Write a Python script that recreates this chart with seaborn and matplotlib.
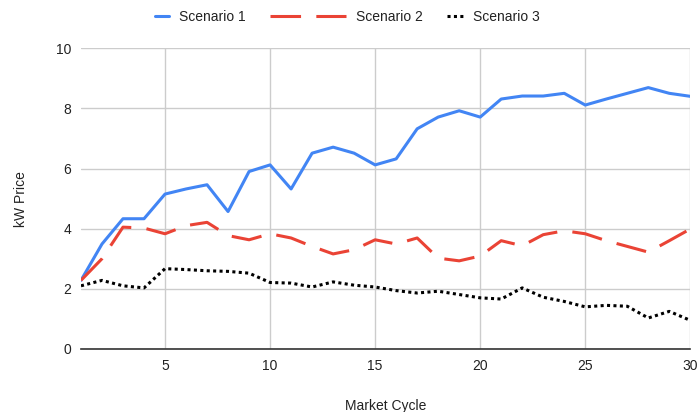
import matplotlib
matplotlib.use("Agg")
import matplotlib.pyplot as plt
import pandas as pd
import seaborn as sns

cycles = list(range(1, 31))
scenario_1 = [2.28, 3.49, 4.33, 4.33, 5.15, 5.32, 5.46, 4.57, 5.90, 6.12,
              5.32, 6.51, 6.71, 6.51, 6.12, 6.32, 7.32, 7.71, 7.92, 7.71,
              8.31, 8.41, 8.41, 8.50, 8.11, 8.31, 8.50, 8.69, 8.50, 8.40]
scenario_2 = [2.28, 3.00, 4.05, 4.02, 3.83, 4.10, 4.21, 3.77, 3.63, 3.83,
              3.69, 3.41, 3.16, 3.30, 3.63, 3.49, 3.69, 3.02, 2.93, 3.09,
              3.60, 3.43, 3.80, 3.93, 3.83, 3.60, 3.41, 3.22, 3.60, 3.99]
scenario_3 = [2.10, 2.28, 2.10, 2.03, 2.67, 2.64, 2.60, 2.58, 2.52, 2.21,
              2.19, 2.06, 2.23, 2.12, 2.06, 1.94, 1.86, 1.92, 1.81, 1.70,
              1.66, 2.03, 1.72, 1.58, 1.40, 1.45, 1.42, 1.03, 1.25, 0.95]
series_names = ["Scenario 1", "Scenario 2", "Scenario 3"]
colors = ["#4285F4", "#EA4335", "#000000"]
dashes = [None, (10, 5), (1, 1.1)]

df = pd.DataFrame({"cycle": cycles, "Scenario 1": scenario_1,
                   "Scenario 2": scenario_2, "Scenario 3": scenario_3})
long = df.melt(id_vars="cycle", var_name="series", value_name="price")

sns.set_theme(style="white")
plt.rcParams["font.family"] = ["Liberation Sans", "DejaVu Sans"]
FS = 10

fig = plt.figure(figsize=(6.98, 4.12), dpi=100)
ax = fig.add_axes([0.116, 0.153, 0.873, 0.730])

lines = []
for name, col, dsh in zip(series_names, colors, dashes):
    sub = long[long["series"] == name]
    sns.lineplot(data=sub, x="cycle", y="price", ax=ax, color=col,
                 linewidth=2.2, label=name, legend=False)
    line = ax.lines[-1]
    if dsh is not None:
        line.set_dashes(dsh)
        line.set_dash_capstyle("butt")
    lines.append(line)

ax.set_xlim(1, 30)
ax.set_ylim(0, 10)
ax.set_xticks([5, 10, 15, 20, 25, 30])
ax.set_yticks([0, 2, 4, 6, 8, 10])
ax.grid(True, color="#cccccc", linewidth=1)
ax.set_axisbelow(True)
for s in ["top", "right", "left"]:
    ax.spines[s].set_visible(False)
ax.spines["bottom"].set_color("#333333")
ax.spines["bottom"].set_linewidth(1.2)
ax.tick_params(axis="both", length=0, labelsize=FS, colors="#222222", pad=7)
ax.set_xlabel("Market Cycle", fontsize=FS, color="#222222", labelpad=19)
ax.set_ylabel("kW Price", fontsize=FS, color="#222222", labelpad=20)

# one legend per entry so each handle can have its own length
legend_x = [155, 270, 447]
handle_len = [1.0, 5.5, 1.15]
for ln, name, lx, hl in zip(lines, series_names, legend_x, handle_len):
    leg = fig.legend([ln], [name], loc="center left",
                     bbox_to_anchor=(lx / 698, 1 - 17 / 412), frameon=False,
                     fontsize=FS, handlelength=hl, handletextpad=0.72,
                     borderpad=0, borderaxespad=0)
    for t in leg.get_texts():
        t.set_color("#222222")

fig.savefig("out.png", dpi=100)
